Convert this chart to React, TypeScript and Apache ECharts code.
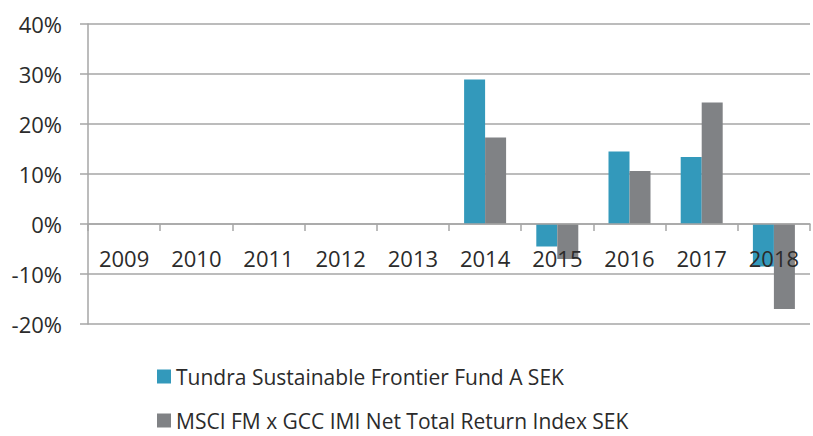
import React, { useEffect, useRef } from "react";
import * as echarts from "echarts";

const categories = ["2009", "2010", "2011", "2012", "2013", "2014", "2015", "2016", "2017", "2018"];
const fundName = "Tundra Sustainable Frontier Fund A SEK";
const indexName = "MSCI FM x GCC IMI Net Total Return Index SEK";
const fundValues = [null, null, null, null, null, 28.9, -4.5, 14.5, 13.4, -8.5];
const indexValues = [null, null, null, null, null, 17.3, -7.0, 10.6, 24.3, -17.0];

const FONT = "Open Sans";
const TEXT = "#2b2b2b";
const GRID = "#a6a6a6";

export default function App() {
  const ref = useRef<HTMLDivElement>(null);
  useEffect(() => {
    if (!ref.current) return;
    const chart = echarts.init(ref.current, null, { renderer: "svg" });
    const legendBase = {
      orient: "horizontal",
      left: 157,
      itemWidth: 14,
      itemHeight: 14,
      icon: "rect",
      padding: 0,
      textStyle: { fontFamily: FONT, fontSize: 21, color: TEXT },
    };
    chart.setOption({
      animation: false,
      grid: { left: 88, right: 3, top: 24, bottom: 112 },
      legend: [
        { ...legendBase, top: 366, data: [fundName] },
        { ...legendBase, top: 410, data: [indexName] },
      ],
      xAxis: {
        type: "category",
        data: categories,
        offset: -100,
        z: 10,
        axisLine: { onZero: false, lineStyle: { color: GRID, width: 1.5 } },
        axisTick: { show: true, length: 7, lineStyle: { color: GRID, width: 1.5 } },
        axisLabel: { fontFamily: FONT, fontSize: 22, color: TEXT, margin: 23 },
      },
      yAxis: {
        type: "value",
        min: -20,
        max: 40,
        interval: 10,
        axisLine: { show: true, lineStyle: { color: GRID, width: 1.5 } },
        axisTick: { show: true, length: 8, lineStyle: { color: GRID, width: 1.5 } },
        splitLine: { lineStyle: { color: GRID, width: 1.5 } },
        axisLabel: {
          fontFamily: FONT,
          fontSize: 22,
          color: TEXT,
          margin: 26,
          formatter: (v: number) => `${v}%`,
        },
      },
      series: [
        {
          name: fundName,
          type: "bar",
          data: fundValues,
          barWidth: 21,
          barGap: "0%",
          itemStyle: { color: "#3399bb" },
        },
        {
          name: indexName,
          type: "bar",
          data: indexValues,
          barWidth: 21,
          barGap: "0%",
          itemStyle: { color: "#808285" },
        },
      ],
    });
    return () => chart.dispose();
  }, []);
  return (
    <div
      ref={ref}
      style={{ position: "fixed", left: 0, top: 0, width: 813, height: 436, background: "#fff" }}
    />
  );
}
